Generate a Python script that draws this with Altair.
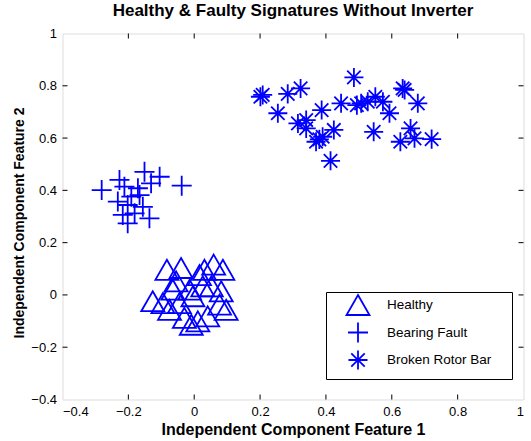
import altair as alt
import pandas as pd

# --- feature-space coordinates of each signature class ---
healthy_x = [-0.083, -0.040, 0.059, 0.087, 0.031, 0.016, -0.126, -0.065, -0.045, -0.004,
             0.077, 0.097, -0.030, 0.011, -0.009, 0.041, -0.095, -0.055, 0.052, 0.026,
             0.082, -0.075, -0.014]
healthy_y = [0.096, 0.103, 0.116, 0.096, 0.096, 0.076, -0.024, 0.020, -0.031, -0.005,
             -0.037, -0.057, -0.088, -0.101, -0.114, -0.082, -0.031, 0.052, 0.033, 0.033,
             0.014, -0.057, 0.020]

bearing_x = [-0.281, -0.038, -0.151, -0.105, -0.227, -0.212, -0.171, -0.232, -0.202, -0.156,
             -0.217, -0.181, -0.136, -0.202, -0.166, -0.131, -0.191]
bearing_y = [0.401, 0.418, 0.471, 0.452, 0.440, 0.414, 0.408, 0.357, 0.344, 0.337,
             0.306, 0.312, 0.293, 0.274, 0.382, 0.427, 0.376]

rotor_x = [0.201, 0.208, 0.284, 0.323, 0.254, 0.315, 0.340, 0.340, 0.387, 0.446,
           0.485, 0.424, 0.380, 0.390, 0.370, 0.414, 0.494, 0.527, 0.550, 0.573,
           0.593, 0.639, 0.633, 0.679, 0.545, 0.626, 0.657, 0.669, 0.721, 0.507]
rotor_y = [0.758, 0.765, 0.769, 0.790, 0.695, 0.656, 0.669, 0.637, 0.707, 0.733,
           0.832, 0.631, 0.595, 0.605, 0.586, 0.513, 0.726, 0.739, 0.758, 0.739,
           0.695, 0.784, 0.790, 0.733, 0.624, 0.586, 0.637, 0.599, 0.596, 0.733]

classes = ["Healthy", "Bearing Fault", "Broken Rotor Bar"]
tick_values = [-0.4, -0.2, 0, 0.2, 0.4, 0.6, 0.8, 1]

df = pd.concat([
    pd.DataFrame({"x": healthy_x, "y": healthy_y, "cls": classes[0]}),
    pd.DataFrame({"x": bearing_x, "y": bearing_y, "cls": classes[1]}),
    pd.DataFrame({"x": rotor_x, "y": rotor_y, "cls": classes[2]}),
], ignore_index=True)
inner_ticks = pd.DataFrame({"t": tick_values[1:-1]})

# open marker outlines (triangle, plus, asterisk)
TRI = "M0,-1.43L1.64,1.43L-1.64,1.43Z"
PLUS = "M-1.43,0H1.43M0,-1.43V1.43"
STAR = ("M-1.36,0H1.36M0,-1.36V1.36"
        "M-0.96,-0.96L0.96,0.96M-0.96,0.96L0.96,-0.96")

W, H = 461, 366
BLUE = "#0000ff"
FONT = "Liberation Sans"
# trailing blank room after legend labels (zero-width space keeps it from being trimmed)
LABEL_TAIL = "\u00a0" * 4 + "\u200b"

x_scale = alt.Scale(domain=[-0.4, 1], nice=False, zero=False)
y_scale = alt.Scale(domain=[-0.4, 1], nice=False, zero=False)

x_axis = alt.Axis(
    values=tick_values, format="~g", ticks=False, domain=False, grid=False,
    labelPadding=6, labelFont=FONT, labelFontSize=13, labelColor="#000",
    title="Independent Component Feature 1", titleFont=FONT, titleFontSize=16,
    titleFontWeight="bold", titleColor="#000", titleBaseline="alphabetic",
    titleX=W / 2, titleY=35)
y_axis = alt.Axis(
    values=tick_values, format="~g", ticks=False, domain=False, grid=False,
    labelPadding=6, labelFont=FONT, labelFontSize=13, labelColor="#000",
    title="Independent Component Feature 2", titleFont=FONT, titleFontSize=14,
    titleFontWeight="bold", titleColor="#000", titleBaseline="alphabetic",
    titleAngle=-90, titleX=-39.5, titleY=H / 2 + 6)

points = alt.Chart(df).mark_point(
    filled=False, color=BLUE, strokeWidth=1.8, size=196, opacity=1
).encode(
    x=alt.X("x:Q", scale=x_scale, axis=x_axis),
    y=alt.Y("y:Q", scale=y_scale, axis=y_axis),
    shape=alt.Shape("cls:N", sort=classes,
                    scale=alt.Scale(domain=classes, range=[TRI, PLUS, STAR]),
                    legend=alt.Legend(
                        title=None, orient="none", legendX=263.5, legendY=258.5,
                        padding=5, rowPadding=-0.5, strokeColor="#000",
                        fillColor="#fff", cornerRadius=0,
                        symbolStrokeColor=BLUE, symbolFillColor="transparent",
                        symbolStrokeWidth=1.8, symbolSize=196, symbolOffset=19,
                        labelOffset=21, labelFont=FONT, labelFontSize=13.5,
                        labelColor="#000",
                        labelExpr="datum.label + '" + LABEL_TAIL + "'")),
)

# inward tick marks on all four sides of the frame
tick_style = dict(color="#000", strokeWidth=1)
bottom_ticks = alt.Chart(inner_ticks).mark_rule(**tick_style).encode(
    x=alt.X("t:Q", scale=x_scale, axis=x_axis), y=alt.value(H), y2=alt.value(H - 5))
top_ticks = alt.Chart(inner_ticks).mark_rule(**tick_style).encode(
    x=alt.X("t:Q", scale=x_scale, axis=x_axis), y=alt.value(0), y2=alt.value(5))
left_ticks = alt.Chart(inner_ticks).mark_rule(**tick_style).encode(
    y=alt.Y("t:Q", scale=y_scale, axis=y_axis), x=alt.value(0), x2=alt.value(5))
right_ticks = alt.Chart(inner_ticks).mark_rule(**tick_style).encode(
    y=alt.Y("t:Q", scale=y_scale, axis=y_axis), x=alt.value(W), x2=alt.value(W - 5))

chart = alt.layer(points, bottom_ticks, top_ticks, left_ticks, right_ticks).properties(
    width=W, height=H,
    title=alt.TitleParams("Healthy & Faulty Signatures Without Inverter",
                          font=FONT, fontSize=17, fontWeight="bold", color="#000",
                          anchor="middle", baseline="alphabetic", offset=-5),
    autosize=alt.AutoSizeParams(type="none"),
    padding={"left": 62.5, "top": 33.5, "right": 7.5, "bottom": 41.5},
).configure_view(stroke="#000", strokeWidth=1).configure(background="#fff")

chart.save("out.html", embed_options={"renderer": "svg", "actions": False})
